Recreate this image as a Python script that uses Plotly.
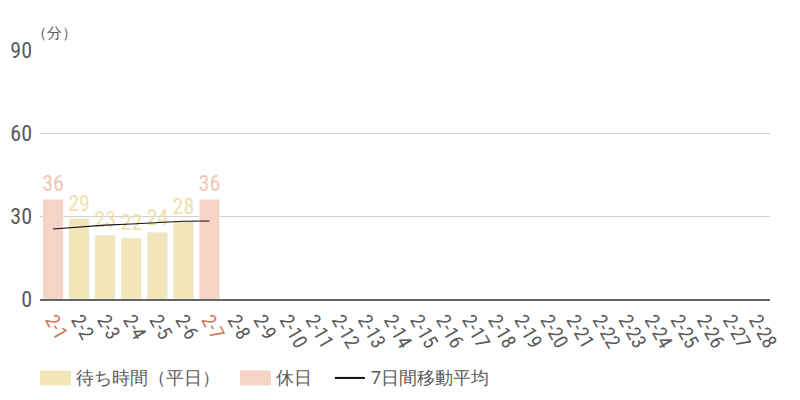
import plotly.graph_objects as go

# Dates shown on the x axis (Feb 1 - Feb 28)
dates = ["2-" + str(d) for d in range(1, 29)]
holiday_dates = ["2-1", "2-7"]

# Waiting time (minutes)
weekday_dates = ["2-2", "2-3", "2-4", "2-5", "2-6"]
weekday_wait = [29, 23, 22, 24, 28]
holiday_wait = [36, 36]

# 7-day moving average
avg_dates = ["2-1", "2-2", "2-3", "2-4", "2-5", "2-6", "2-7"]
avg_wait = [25.3, 26.0, 26.7, 27.1, 27.6, 28.1, 28.2]

y_ticks = [0, 30, 60, 90]

weekday_col = "#f2e6b8"
holiday_col = "#f5d3c6"
weekday_txt = "#efe0ad"
holiday_txt = "#f2c6b6"
red_tick = "#d0765a"
grey = "#5a5a5a"
font = "Roboto"
narrow = "Roboto Condensed, Roboto"

tick_text = []
for d in dates:
    if d in holiday_dates:
        tick_text.append('<span style="color:%s">%s</span>' % (red_tick, d))
    else:
        tick_text.append(d)

fig = go.Figure()

fig.add_trace(go.Bar(
    x=weekday_dates, y=weekday_wait,
    marker_color=weekday_col,
    text=weekday_wait, textposition="outside", constraintext="none",
    textfont=dict(color=weekday_txt, size=22, family=narrow),
    cliponaxis=False, showlegend=False,
))
fig.add_trace(go.Bar(
    x=holiday_dates, y=holiday_wait,
    marker_color=holiday_col,
    text=holiday_wait, textposition="outside", constraintext="none",
    textfont=dict(color=holiday_txt, size=22, family=narrow),
    cliponaxis=False, showlegend=False,
))
fig.add_trace(go.Scatter(
    x=avg_dates, y=avg_wait, mode="lines",
    line=dict(color="#111", width=1.2),
    showlegend=False,
))

# hand-made legend, to get the wide swatches
legend_y = -0.317
shapes = [
    dict(type="rect", xref="paper", yref="paper",
         x0=0.0, x1=0.0425, y0=legend_y - 0.03, y1=legend_y + 0.03,
         fillcolor=weekday_col, line_width=0),
    dict(type="rect", xref="paper", yref="paper",
         x0=0.274, x1=0.3165, y0=legend_y - 0.03, y1=legend_y + 0.03,
         fillcolor=holiday_col, line_width=0),
    dict(type="line", xref="paper", yref="paper",
         x0=0.404, x1=0.445, y0=legend_y, y1=legend_y,
         line=dict(color="#111", width=2)),
]
legend_items = [("待ち時間（平日）", 0.047), ("休日", 0.321), ("7日間移動平均", 0.45)]
annotations = [
    dict(text=t, x=x, y=legend_y, xref="paper", yref="paper",
         xanchor="left", yanchor="middle", showarrow=False,
         font=dict(size=18, color=grey, family=font))
    for t, x in legend_items
]
annotations.append(dict(
    text="（分）", x=-0.014, y=1.07, xref="paper", yref="paper",
    xanchor="left", yanchor="middle", showarrow=False,
    font=dict(size=15, color=grey, family=font),
))

# page body has an 8px margin, so the plot margins are offset by it
fig.update_layout(
    width=800, height=400,
    margin=dict(l=32, r=38, t=42, b=109),
    plot_bgcolor="white", paper_bgcolor="white",
    barmode="overlay", bargap=0.23,
    font=dict(family=font, color=grey),
    shapes=shapes, annotations=annotations,
    xaxis=dict(
        categoryorder="array", categoryarray=dates,
        tickmode="array", tickvals=dates, ticktext=tick_text,
        tickangle=60, tickfont=dict(size=20, color=grey, family=narrow),
        showline=True, linecolor="#666", linewidth=1.5,
        showgrid=False, ticks="", range=[-0.5, 27.5], automargin=False,
    ),
    yaxis=dict(
        range=[0, 90], tickvals=y_ticks,
        tickfont=dict(size=22, color=grey, family=narrow),
        gridcolor="#d0d0d0", gridwidth=1, zeroline=False,
        ticks="", ticklabelstandoff=7, automargin=False,
    ),
)

fig.write_html("out.html")
